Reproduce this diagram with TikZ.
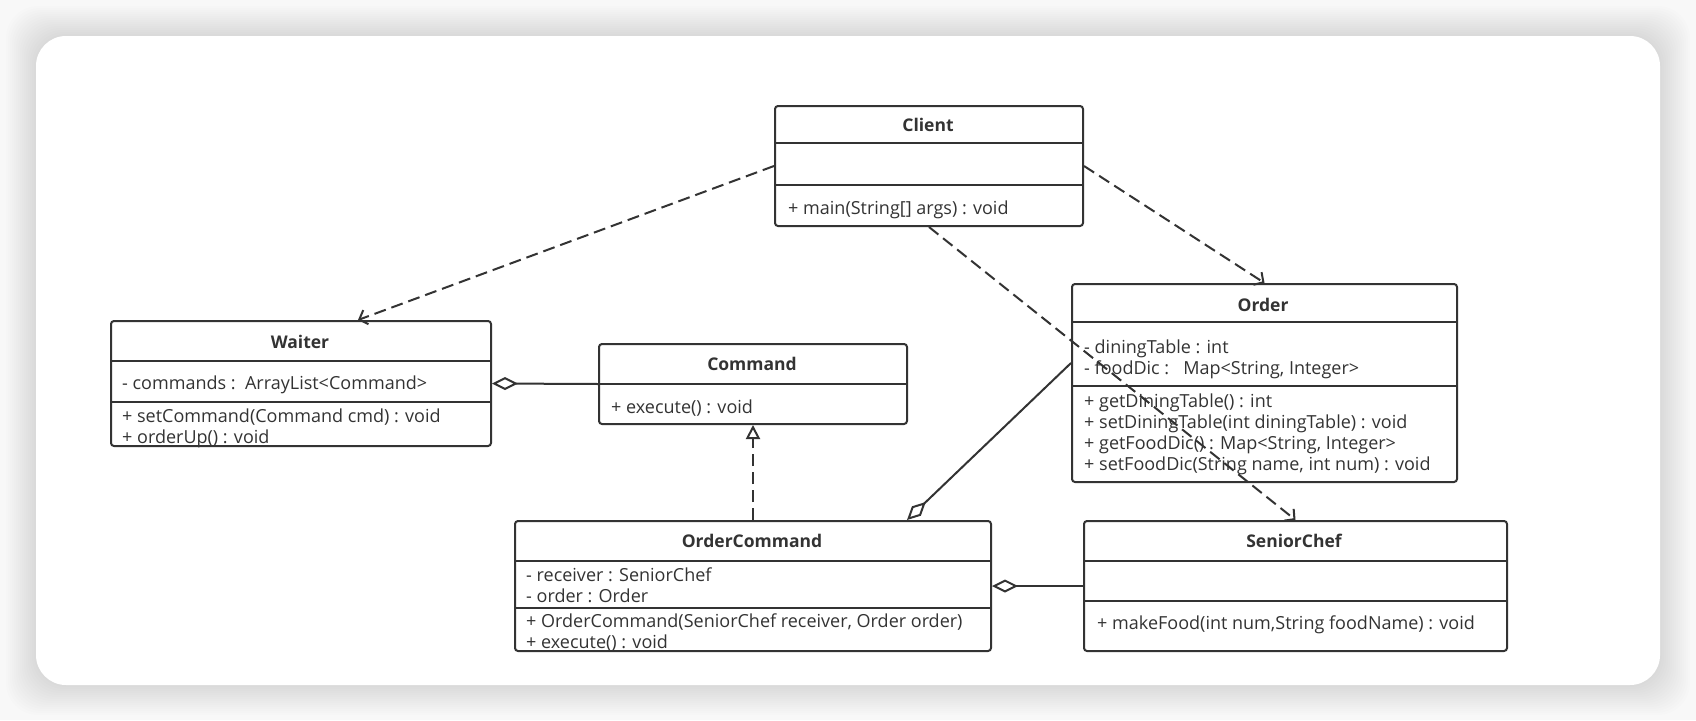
\documentclass[tikz,border=0pt]{standalone}
\usepackage{fontspec}
\setmainfont{Open Sans}
\usetikzlibrary{arrows.meta,calc}
\definecolor{umlline}{HTML}{333333}
\definecolor{umltext}{HTML}{333333}
\definecolor{pagebg}{HTML}{F8F8F8}

\tikzset{
  classbox/.style={draw=umlline, line width=2pt, rounded corners=3pt, inner sep=0pt, anchor=north west},
  classname/.style={font=\fontsize{17.5}{21}\selectfont\bfseries, text=umltext, inner sep=0pt},
  member/.style={font=\fontsize{18}{21}\selectfont, text=umltext, anchor=west, inner sep=0pt},
  sepline/.style={draw=umlline, line width=2pt},
  depend/.style={draw=umlline, line width=2pt, dash pattern=on 12pt off 6pt,
    -{Straight Barb[length=7pt,width=15pt]}},
  aggreg/.style={draw=umlline, line width=2pt, {Diamond[open,length=26pt,width=13pt]}-},
  realize/.style={draw=umlline, line width=2pt, dash pattern=on 12pt off 6pt,
    -{Triangle[open,length=14pt,width=14pt]}},
}

\begin{document}
\begin{tikzpicture}[x=1pt,y=-1pt]
    \useasboundingbox (0,0) rectangle (1696,720);
    \fill[pagebg] (0,0) rectangle (1696,720);
    \foreach \i in {1,...,15}
      \fill[black, opacity=0.008, rounded corners=32pt]
           ({36-2*\i},{36-2*\i}) rectangle ({1660+2*\i},{685+2*\i});
    \fill[white, rounded corners=30pt] (36,36) rectangle (1660,685);

    \node[classbox, minimum width=308pt, minimum height=120pt] (client) at (774,105) {};
    \node[classname] (clientname) at (928,125) {Client};
    \draw[sepline] (774,143) -- (1082,143);
    \draw[sepline] (774,185) -- (1082,185);
    \node[member] (clientop) at (788,210) {+ main(String[] args) : void};

    \node[classbox, minimum width=380pt, minimum height=125pt] (waiter) at (110,320) {};
    \node[classname] (waitername) at (300,342) {Waiter};
    \draw[sepline] (110,361) -- (490,361);
    \draw[sepline] (110,402) -- (490,402);
    \node[member] (waiterattr) at (122,385) {- commands :\ \ ArrayList<Command>};
    \node[member] (waiterop1) at (122,417) {+ setCommand(Command cmd) : void};
    \node[member] (waiterop2) at (122,439) {+ orderUp() : void};

    \node[classbox, minimum width=308pt, minimum height=80pt] (command) at (598,343) {};
    \node[classname] (commandname) at (752,364) {Command};
    \draw[sepline] (598,384) -- (906,384);
    \node[member] (commandop) at (611,408) {+ execute() : void};

    \node[classbox, minimum width=385pt, minimum height=198pt] (order) at (1071,283) {};
    \node[classname] (ordername) at (1263,305) {Order};
    \draw[sepline] (1071,322) -- (1456,322);
    \draw[sepline] (1071,386) -- (1456,386);
    \node[member] (orderattr1) at (1084,349) {- diningTable : int};
    \node[member] (orderattr2) at (1084,370) {- foodDic :\ \ \ Map<String, Integer>};
    \node[member] (orderop1) at (1084,403) {+ getDiningTable() : int};
    \node[member] (orderop2) at (1084,424) {+ setDiningTable(int diningTable) : void};
    \node[member] (orderop3) at (1084,445) {+ getFoodDic() : Map<String, Integer>};
    \node[member] (orderop4) at (1084,466) {+ setFoodDic(String name, int num) : void};

    \node[classbox, minimum width=476pt, minimum height=130pt] (ordercmd) at (514,520) {};
    \node[classname] (ordercmdname) at (752,541) {OrderCommand};
    \draw[sepline] (514,561) -- (990,561);
    \draw[sepline] (514,608) -- (990,608);
    \node[member] (ordercmdattr1) at (526,575) {- receiver : SeniorChef};
    \node[member] (ordercmdattr2) at (526,596) {- order : Order};
    \node[member] (ordercmdop1) at (526,622) {+ OrderCommand(SeniorChef receiver, Order order)};
    \node[member] (ordercmdop2) at (526,643) {+ execute() : void};

    \node[classbox, minimum width=423pt, minimum height=130pt] (chef) at (1083,520) {};
    \node[classname] (chefname) at (1294,541) {SeniorChef};
    \draw[sepline] (1083,561) -- (1506,561);
    \draw[sepline] (1083,601) -- (1506,601);
    \node[member] (chefop) at (1097,625) {+ makeFood(int num,String foodName) : void};

    \draw[depend] (client.west) -- ($(waiter.north)+(57,0)$);
    \draw[depend] (client.east) -- (order.north);
    \draw[depend] (client.south) -- (chef.north);
    \draw[aggreg] (waiter.east) -- (command.west);
    \draw[aggreg] ($(ordercmd.north)+(154,0)$) -- ($(order.north west)+(0,80)$);
    \draw[aggreg] (ordercmd.east) -- (chef.west);
    \draw[realize] (ordercmd.north) -- (command.south);
\end{tikzpicture}
\end{document}
